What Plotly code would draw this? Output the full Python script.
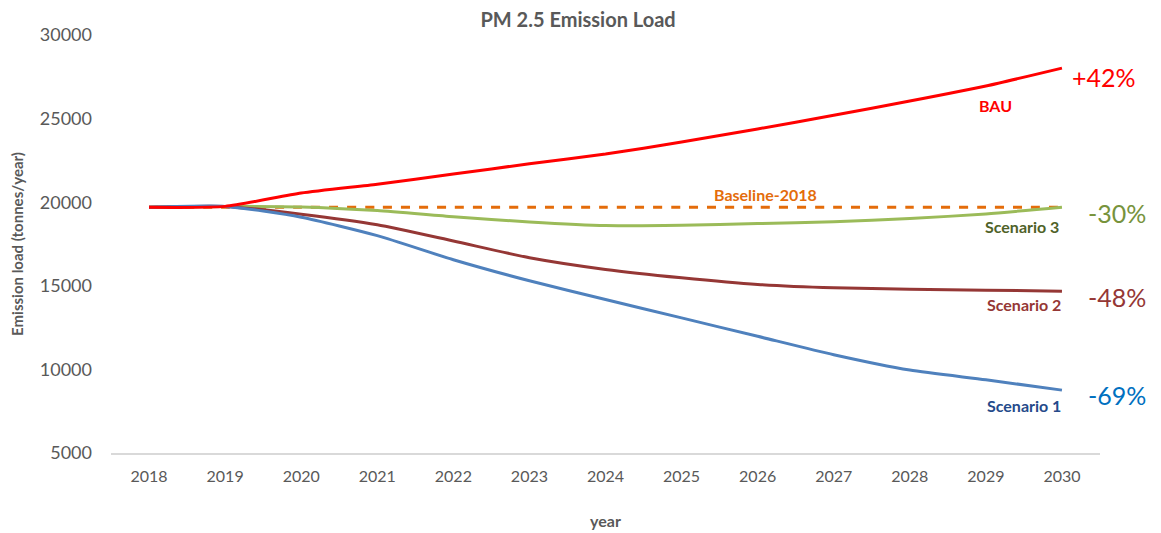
import plotly.graph_objects as go

years = list(range(2018, 2031))
baseline = [19700] * 13
bau = [19700, 19750, 20550, 21080, 21680, 22300, 22880, 23600, 24380, 25200, 26050, 26950, 28020]
scenario3 = [19700, 19750, 19720, 19500, 19130, 18820, 18600, 18620, 18720, 18830, 19020, 19300, 19700]
scenario2 = [19700, 19750, 19280, 18650, 17680, 16680, 15980, 15480, 15080, 14880, 14800, 14740, 14680]
scenario1 = [19700, 19750, 19100, 18000, 16560, 15300, 14180, 13080, 11980, 10880, 9960, 9380, 8760]
y_ticks = [5000, 10000, 15000, 20000, 25000, 30000]

series = [
    ("Baseline-2018", baseline, "#e46c0a", "dash"),
    ("Scenario 3", scenario3, "#9bbb59", "solid"),
    ("Scenario 2", scenario2, "#953735", "solid"),
    ("Scenario 1", scenario1, "#4f81bd", "solid"),
    ("BAU", bau, "#ff0000", "solid"),
]

# line labels: (text, x, y, colour)
line_labels = [
    ("BAU", 2029.12, 25800, "#ff0000"),
    ("Baseline-2018", 2026.1, 20490, "#e46c0a"),
    ("Scenario 3", 2029.47, 18520, "#4f6228"),
    ("Scenario 2", 2029.5, 13900, "#953735"),
    ("Scenario 1", 2029.5, 7870, "#254a8a"),
]
# change labels at end of lines: (text, y, colour)
change_labels = [
    ("+42%", 27500, "#ff0000"),
    ("-30%", 19360, "#77933c"),
    ("-48%", 14340, "#953735"),
    ("-69%", 8480, "#0070c0"),
]

fig = go.Figure()
for name, vals, color, dash in series:
    fig.add_trace(
        go.Scatter(
            x=years,
            y=vals,
            mode="lines",
            name=name,
            line={"color": color, "width": 3, "dash": dash, "shape": "spline", "smoothing": 0.6},
        )
    )

for text, x, y, color in line_labels:
    fig.add_annotation(
        x=x, y=y, text=f"<b>{text}</b>", showarrow=False,
        font={"family": "Lato", "size": 16, "color": color},
    )
for text, y, color in change_labels:
    fig.add_annotation(
        x=2030, y=y, text=text, showarrow=False, xanchor="left", xshift=8 if text.startswith("+") else 24,
        font={"family": "Lato", "size": 25, "color": color},
    )

# page body has an 8px margin, so the figure is offset by that amount
fig.update_layout(
    width=1161,
    height=533,
    showlegend=False,
    plot_bgcolor="white",
    paper_bgcolor="white",
    margin={"l": 103, "r": 69, "t": 27, "b": 88},
    title={
        "text": "<b>PM 2.5 Emission Load</b>",
        "x": 0.491, "xanchor": "center", "y": 0.977, "yanchor": "middle",
        "font": {"family": "Lato", "size": 20, "color": "#595959"},
    },
    font={"family": "Lato", "color": "#595959"},
)
fig.update_xaxes(
    range=[2017.5, 2030.5],
    tickvals=years,
    showgrid=False,
    zeroline=False,
    showline=True,
    linecolor="#d9d9d9",
    linewidth=2,
    ticks="",
    automargin=False,
    ticklabelstandoff=8,
    tickfont={"size": 16, "color": "#595959"},
    title={"text": "<b>year</b>", "font": {"size": 16, "color": "#595959"}, "standoff": 32},
)
fig.update_yaxes(
    range=[5000, 30000],
    tickvals=y_ticks,
    ticktext=[str(v) for v in y_ticks],
    showgrid=False,
    zeroline=False,
    showline=False,
    ticks="",
    automargin=False,
    ticklabelstandoff=18,
    tickfont={"size": 18, "color": "#595959"},
    title={"text": "<b>Emission load (tonnes/year)</b>", "font": {"size": 15, "color": "#595959"}, "standoff": 14},
)

fig.write_html("out.html")
